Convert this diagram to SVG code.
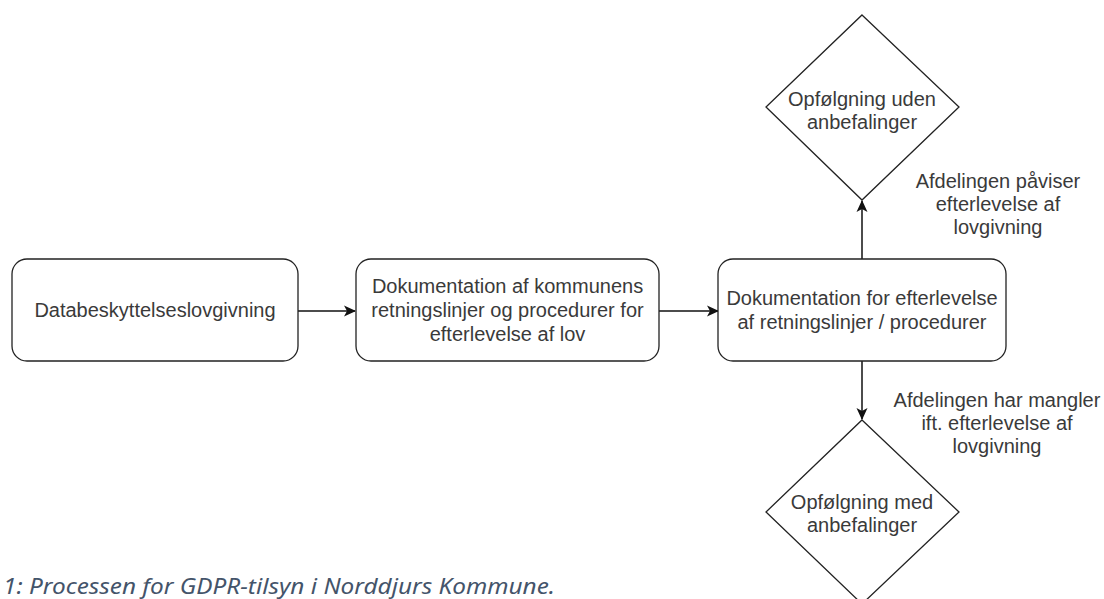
<svg xmlns="http://www.w3.org/2000/svg" width="1104" height="599" viewBox="0 0 1104 599">
<style>
.box{fill:#fff;stroke:#222;stroke-width:1.3}
.t{font-family:"Liberation Sans",Arial,sans-serif;font-size:20px;fill:#3a3a3a;text-anchor:middle}
.edge{fill:none;stroke:#111;stroke-width:1.5}
.cap{font-family:"Noto Sans","Open Sans",sans-serif;font-style:italic;font-size:21px;fill:#44546A}
</style>
<defs>
<marker id="arr" viewBox="0 0 12 12" refX="11" refY="6" markerWidth="12" markerHeight="12" markerUnits="userSpaceOnUse" orient="auto">
<path d="M0,0.5 L12,6 L0,11.5 L3,6 Z" fill="#111"/>
</marker>
</defs>
<rect width="1104" height="599" fill="#fff"/>
<g id="connectors">
<line class="edge" x1="298" y1="311" x2="355" y2="311" marker-end="url(#arr)"/>
<line class="edge" x1="659" y1="311" x2="718" y2="311" marker-end="url(#arr)"/>
<line class="edge" x1="862" y1="259" x2="862" y2="201" marker-end="url(#arr)"/>
<line class="edge" x1="862" y1="361" x2="862" y2="419" marker-end="url(#arr)"/>
</g>
<g id="label-up">
<text class="t" x="998" y="188">Afdelingen påviser</text>
<text class="t" x="998" y="211">efterlevelse af</text>
<text class="t" x="998" y="234">lovgivning</text>
</g>
<g id="label-down">
<text class="t" x="997" y="407">Afdelingen har mangler</text>
<text class="t" x="997" y="430">ift. efterlevelse af</text>
<text class="t" x="997" y="453">lovgivning</text>
</g>
<g id="node1">
<rect class="box" x="12" y="259" width="286" height="102" rx="15" ry="15"/>
<text class="t" x="155" y="317">Databeskyttelseslovgivning</text>
</g>
<g id="node2">
<rect class="box" x="356" y="259" width="303" height="102" rx="15" ry="15"/>
<text class="t" x="507.5" y="293">Dokumentation af kommunens</text>
<text class="t" x="507.5" y="317">retningslinjer og procedurer for</text>
<text class="t" x="507.5" y="341">efterlevelse af lov</text>
</g>
<g id="node3">
<rect class="box" x="718" y="259" width="288" height="102" rx="15" ry="15"/>
<text class="t" x="862" y="305">Dokumentation for efterlevelse</text>
<text class="t" x="862" y="329">af retningslinjer / procedurer</text>
</g>
<g id="node4">
<polygon class="box" points="862,15 959,107 862,200 766,107"/>
<text class="t" x="862" y="106">Opfølgning uden</text>
<text class="t" x="862" y="129">anbefalinger</text>
</g>
<g id="node5">
<polygon class="box" points="862,420 959,512 862,604 766,512"/>
<text class="t" x="862" y="509">Opfølgning med</text>
<text class="t" x="862" y="532">anbefalinger</text>
</g>
<text class="cap" x="3" y="594" textLength="552" lengthAdjust="spacingAndGlyphs">1: Processen for GDPR-tilsyn i Norddjurs Kommune.</text>
</svg>
